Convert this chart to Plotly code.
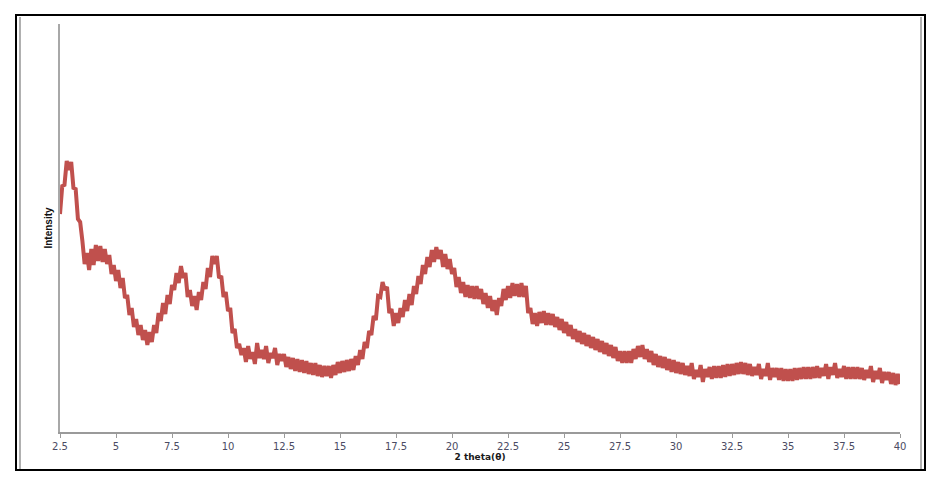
import plotly.graph_objects as go

# 2-theta positions (0.1 degree steps from 2.5 to 40.0)
two_theta = [round(2.5 + i * 0.1, 1) for i in range(376)]

intensity = [
    218, 246, 247, 271, 262, 270, 244, 243, 213, 210,
    191, 168, 179, 162, 183, 167, 187, 171, 186, 170,
    183, 168, 177, 158, 167, 151, 162, 144, 154, 134,
    137, 117, 124, 105, 113, 97, 107, 92, 102, 87,
    100, 90, 107, 99, 119, 111, 129, 118, 137, 128,
    147, 142, 159, 149, 166, 154, 159, 135, 142, 126,
    136, 122, 140, 132, 150, 143, 164, 155, 176, 168,
    176, 154, 156, 135, 140, 121, 124, 99, 103, 84,
    88, 77, 84, 70, 86, 73, 80, 68, 89, 74,
    82, 73, 86, 69, 79, 74, 84, 67, 78, 71,
    78, 65, 75, 63, 74, 61, 73, 60, 72, 59,
    71, 58, 69, 57, 69, 56, 67, 55, 66, 56,
    66, 54, 67, 57, 70, 59, 71, 60, 72, 61,
    73, 62, 76, 67, 82, 73, 90, 84, 101, 97,
    116, 112, 136, 135, 150, 142, 145, 119, 123, 106,
    119, 109, 124, 115, 132, 121, 138, 127, 146, 138,
    156, 148, 167, 158, 175, 165, 182, 170, 185, 173,
    182, 165, 178, 163, 173, 158, 164, 145, 155, 139,
    150, 135, 147, 134, 146, 133, 146, 133, 143, 128,
    139, 124, 136, 121, 132, 117, 134, 126, 143, 132,
    146, 134, 149, 136, 148, 135, 149, 135, 146, 119,
    124, 108, 119, 106, 120, 109, 121, 107, 119, 107,
    118, 105, 115, 102, 113, 99, 110, 96, 107, 93,
    103, 90, 101, 88, 99, 86, 97, 84, 95, 82,
    93, 80, 91, 78, 89, 76, 87, 74, 85, 71,
    81, 69, 81, 69, 81, 69, 83, 73, 86, 75,
    87, 73, 83, 70, 81, 67, 78, 65, 76, 64,
    75, 62, 73, 60, 72, 59, 70, 58, 69, 57,
    66, 56, 69, 53, 62, 55, 67, 50, 63, 55,
    65, 53, 66, 54, 66, 54, 67, 55, 68, 56,
    68, 57, 69, 58, 70, 58, 69, 57, 68, 56,
    65, 57, 68, 53, 63, 56, 69, 52, 64, 55,
    64, 52, 64, 51, 63, 51, 63, 51, 64, 52,
    64, 53, 65, 53, 65, 53, 65, 54, 66, 54,
    64, 56, 68, 53, 65, 57, 69, 54, 63, 55,
    66, 53, 65, 53, 65, 53, 65, 53, 64, 52,
    62, 54, 66, 50, 61, 53, 64, 49, 60, 52,
    60, 48, 59, 47, 58, 48,
]

x_title = "2 theta(θ)"
y_title = "Intensity"

W, H = 946, 478
L, R, T, B = 60, 46, 24, 46
pw, ph = W - L - R, H - T - B


def px(x):
    return (x - L) / pw


def py(y):
    return (H - B - y) / ph


fig = go.Figure()
fig.add_trace(go.Scatter(
    x=two_theta, y=intensity, mode="lines",
    line=dict(color="#C0504D", width=4, simplify=False),
    showlegend=False, hoverinfo="skip",
))

tick_font = dict(family="DejaVu Sans", size=10, color="#4b4b63")

fig.update_layout(
    width=W, height=H, autosize=False,
    margin=dict(l=L, r=R, t=T, b=B, pad=0),
    paper_bgcolor="white", plot_bgcolor="white",
    xaxis=dict(
        range=[2.5, 40], tick0=2.5, dtick=2.5, showgrid=False, zeroline=False,
        showline=True, linecolor="#9a9a9a", linewidth=1.5,
        ticks="outside", ticklen=4, tickcolor="#9a9a9a", tickwidth=1,
        tickfont=tick_font,
        title=dict(text=f"<b>{x_title}</b>", font=dict(family="DejaVu Sans", size=9, color="#1a1a1a"), standoff=1),
    ),
    yaxis=dict(
        range=[0, 408], showgrid=False, zeroline=False, showticklabels=False,
        showline=True, linecolor="#a8a8a8", linewidth=2, ticks="",
        title=dict(text=f"<b>{y_title}</b>", font=dict(family="Liberation Sans Narrow, Liberation Sans", size=10, color="#111111"), standoff=4),
    ),
    shapes=[
        dict(type="rect", xref="paper", yref="paper",
             x0=px(16), x1=px(925), y0=py(15), y1=py(470),
             line=dict(color="black", width=2), layer="below"),
        dict(type="line", xref="paper", yref="paper",
             x0=px(20), x1=px(20), y0=py(17), y1=py(469),
             line=dict(color="#b0b0b0", width=2)),
        dict(type="line", xref="paper", yref="paper",
             x0=px(921), x1=px(921), y0=py(17), y1=py(469),
             line=dict(color="#b0b0b0", width=2)),
    ],
)

fig.write_html("out.html")
